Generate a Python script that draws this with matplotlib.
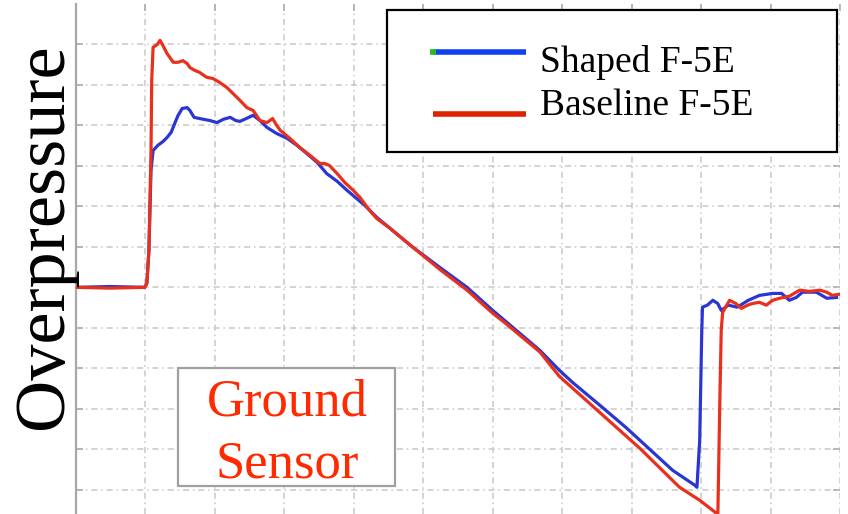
import matplotlib
matplotlib.use("Agg")
import matplotlib.pyplot as plt
from matplotlib.patches import Rectangle

# time axis in grid units (11 divisions), overpressure in grid units (0 = ambient)
shaped_t = [0.0, 0.49, 0.99, 1.02, 1.05, 1.08, 1.11, 1.18, 1.25, 1.31, 1.37, 1.41,
            1.47, 1.53, 1.60, 1.64, 1.70, 1.78, 1.93, 2.03, 2.12, 2.22, 2.30, 2.36,
            2.45, 2.55, 2.65, 2.75, 2.89, 3.04, 3.18, 3.32, 3.47, 3.61, 3.76, 3.90,
            4.16, 4.33, 4.85, 5.24, 5.63, 6.00, 6.20, 6.68, 6.96, 7.15, 7.54, 7.93,
            8.12, 8.59, 8.91, 8.94, 8.98, 9.01, 9.02, 9.09, 9.17, 9.24, 9.29, 9.39,
            9.52, 9.68, 9.84, 10.03, 10.16, 10.27, 10.37, 10.46, 10.66, 10.81, 10.95]
shaped_p = [0.0, 0.02, 0.0, 0.10, 0.91, 2.89, 3.38, 3.51, 3.60, 3.70, 3.83, 4.00,
            4.25, 4.42, 4.44, 4.37, 4.20, 4.17, 4.12, 4.07, 4.15, 4.20, 4.12, 4.10,
            4.17, 4.25, 4.12, 3.95, 3.80, 3.68, 3.51, 3.31, 3.09, 2.81, 2.62, 2.40,
            2.02, 1.73, 0.99, 0.49, 0.0, -0.57, -0.86, -1.56, -2.05, -2.35, -2.91, -3.48,
            -3.78, -4.52, -4.89, -4.94, -3.78, -1.06, -0.49, -0.44, -0.32, -0.40, -0.57, -0.44,
            -0.49, -0.32, -0.20, -0.15, -0.15, -0.32, -0.25, -0.12, -0.12, -0.27, -0.25]

baseline_t = [0.0, 0.49, 0.99, 1.02, 1.05, 1.08, 1.09, 1.11, 1.17, 1.21, 1.25, 1.31,
              1.40, 1.47, 1.54, 1.60, 1.64, 1.71, 1.78, 1.88, 1.97, 2.07, 2.17, 2.26,
              2.36, 2.46, 2.55, 2.65, 2.75, 2.83, 2.89, 2.94, 3.08, 3.22, 3.37, 3.51,
              3.58, 3.65, 3.76, 3.87, 3.99, 4.09, 4.19, 4.33, 4.52, 4.66, 4.85, 5.24,
              5.63, 6.00, 6.20, 6.68, 6.96, 7.54, 8.12, 8.69, 8.98, 9.22, 9.24, 9.27,
              9.29, 9.31, 9.41, 9.50, 9.58, 9.67, 9.74, 9.84, 9.94, 10.03, 10.13, 10.27,
              10.42, 10.56, 10.71, 10.81, 10.89, 10.99]
baseline_p = [0.0, -0.02, 0.0, 0.10, 0.91, 3.38, 5.11, 5.93, 6.00, 6.10, 5.98, 5.78,
              5.56, 5.56, 5.60, 5.53, 5.43, 5.36, 5.31, 5.19, 5.16, 5.06, 4.94, 4.79,
              4.62, 4.44, 4.37, 4.12, 4.07, 4.17, 4.00, 3.88, 3.68, 3.46, 3.26, 3.06,
              3.06, 3.01, 2.81, 2.59, 2.40, 2.22, 1.98, 1.70, 1.46, 1.26, 0.99, 0.44,
              -0.07, -0.64, -0.91, -1.60, -2.20, -3.09, -3.98, -4.94, -5.26, -5.58, -5.75, -2.79,
              -1.06, -0.62, -0.32, -0.40, -0.52, -0.44, -0.40, -0.37, -0.44, -0.32, -0.27, -0.22,
              -0.07, -0.10, -0.07, -0.12, -0.20, -0.17]

series_labels = ["Shaped F-5E", "Baseline F-5E"]
y_label = "Overpressure"
inset_label = ["Ground", "Sensor"]

serif = ["Liberation Serif", "DejaVu Serif"]
blue = "#2a36d2"
red = "#e8301c"

fig = plt.figure(figsize=(8.48, 5.14), dpi=100)
ax = fig.add_axes([76 / 848, 0.0, 764 / 848, 510 / 514])

ax.plot(shaped_t, shaped_p, color=blue, lw=2.3, solid_joinstyle="round", zorder=3)
ax.plot(baseline_t, baseline_p, color=red, lw=2.3, solid_joinstyle="round", zorder=4)

ax.set_xlim(0, 11)
ax.set_ylim(-5.6, 7.0)
ax.set_xticks(range(0, 12))
ax.set_yticks(range(-5, 7))
ax.grid(True, color="#c8c8c8", lw=1.1, linestyle=(0, (4, 2.5, 1, 2.5)))
ax.tick_params(which="both", direction="in", length=5, width=1.2, color="#b0b0b0",
               top=True, right=True, bottom=False, labelleft=False, labelbottom=False)
for side in ["top", "right", "bottom"]:
    ax.spines[side].set_visible(False)
ax.spines["left"].set_color("#a8a8a8")
ax.spines["left"].set_linewidth(1.6)

# legend box drawn by hand (box is wider than its entries)
ax.add_patch(Rectangle((0.407, 0.710), 0.589, 0.278, transform=ax.transAxes,
                       facecolor="white", edgecolor="black", lw=1.6, zorder=10))
ax.plot([0.467, 0.589], [0.906, 0.906], transform=ax.transAxes, color="#1040f0",
        lw=4, solid_capstyle="butt", zorder=11)
ax.plot([0.463, 0.471], [0.906, 0.906], transform=ax.transAxes, color="#20c020",
        lw=4, solid_capstyle="butt", zorder=12)
ax.plot([0.467, 0.589], [0.784, 0.784], transform=ax.transAxes, color="#dd2200",
        lw=4, solid_capstyle="butt", zorder=11)
ax.text(0.607, 0.867, series_labels[0], transform=ax.transAxes, fontsize=27,
        family=serif, va="baseline", ha="left", zorder=12)
ax.text(0.607, 0.782, series_labels[1], transform=ax.transAxes, fontsize=27,
        family=serif, va="baseline", ha="left", zorder=12)

# "Ground Sensor" note
ax.add_patch(Rectangle((0.1335, 0.0549), 0.284, 0.231, transform=ax.transAxes,
                       facecolor="white", edgecolor="#a0a0a0", lw=1.6, zorder=10))
ax.text(0.277, 0.194, inset_label[0], transform=ax.transAxes, fontsize=38,
        family=serif, color="#ff2a00", va="baseline", ha="center", zorder=11)
ax.text(0.277, 0.0706, inset_label[1], transform=ax.transAxes, fontsize=38,
        family=serif, color="#ff2a00", va="baseline", ha="center", zorder=11)

fig.text(45 / 848, 0.541, y_label, rotation=90, fontsize=52, family=serif,
         ha="center", va="center")

fig.savefig("out.png", dpi=100)
